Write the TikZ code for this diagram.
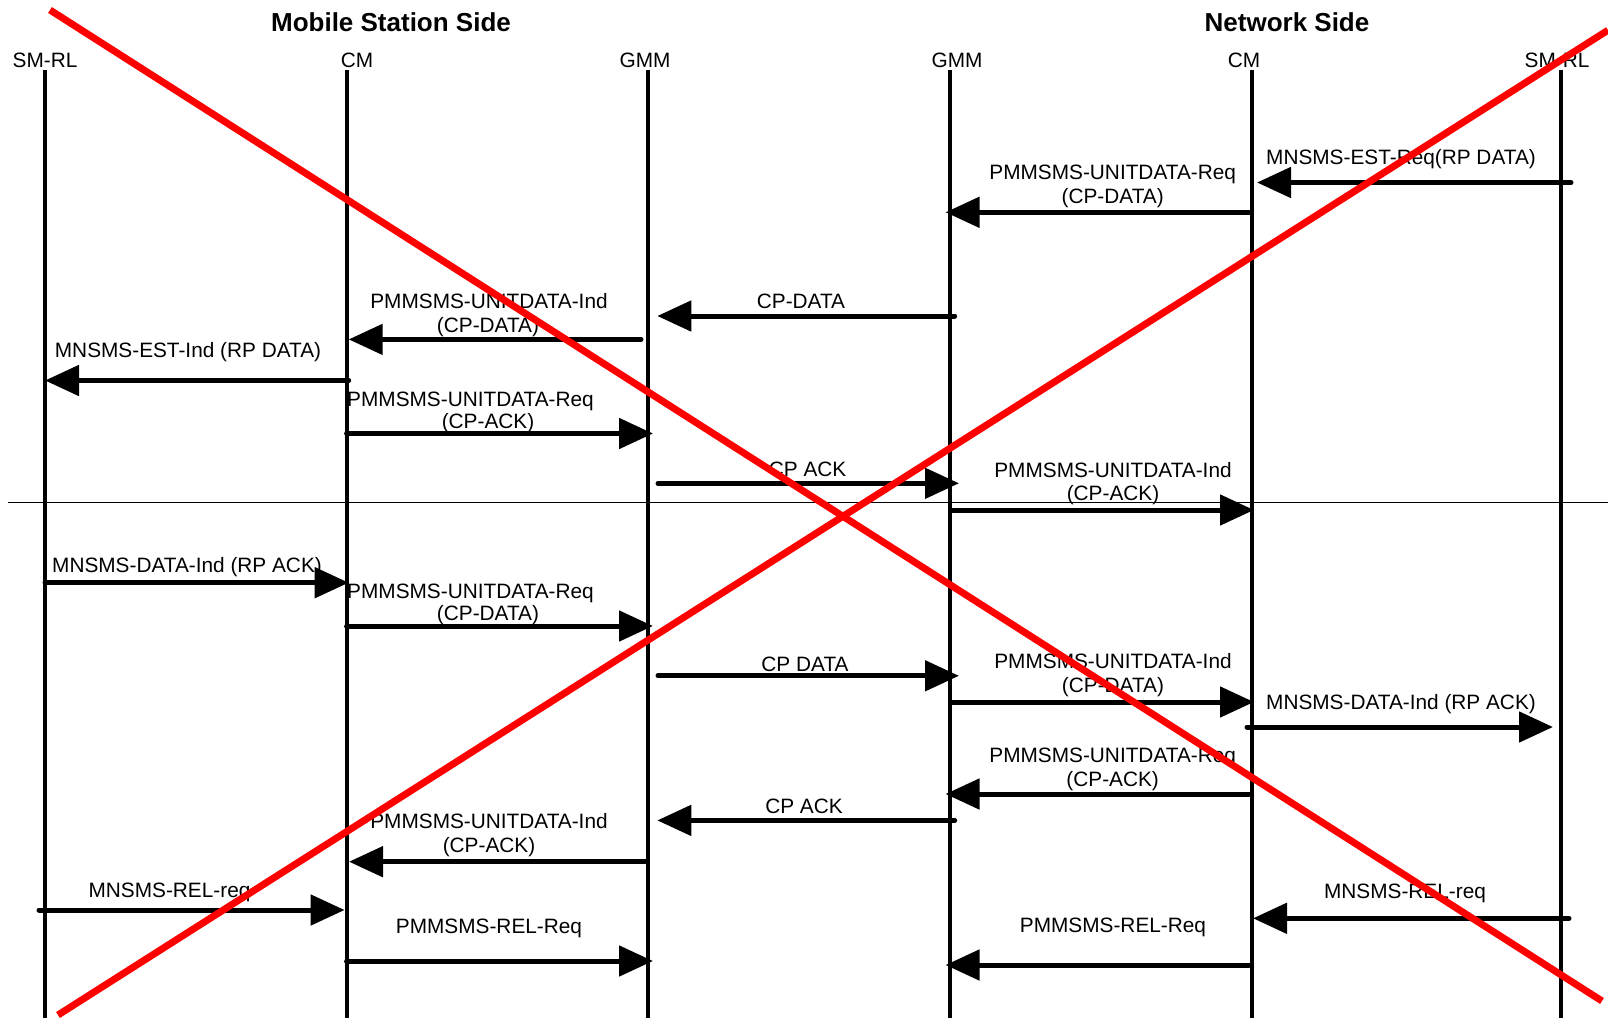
\documentclass[tikz,border=0pt]{standalone}
\usepackage{fontspec}
\setmainfont{Liberation Sans}
\usetikzlibrary{arrows.meta}
\begin{document}
\begin{tikzpicture}[x=0.5pt,y=-0.5pt,
  lifeline/.style={line width=2pt},
  msg/.style={line width=2.5pt, line cap=round, -{Triangle[length=17pt,width=15pt]}},
  txt/.style={anchor=base, inner sep=0pt, font=\fontsize{10.4}{12}\selectfont},
  sidetitle/.style={anchor=base, inner sep=0pt, font=\fontsize{13}{15}\selectfont\bfseries},
  cross/.style={red, line width=3.5pt}]
\useasboundingbox (0,0) rectangle (1608,1018);
% ====================
% Side titles and entity names
\node[sidetitle] (msside) at (391,31.5) {Mobile Station Side};
\node[sidetitle] (nwside) at (1287,31.5) {Network Side};
\node[txt] (smrlA) at (45,67.5) {SM-RL};
\node[txt] (cmA) at (357,67.5) {CM};
\node[txt] (gmmA) at (645,67.5) {GMM};
\node[txt] (gmmB) at (957,67.5) {GMM};
\node[txt] (cmB) at (1244,67.5) {CM};
\node[txt] (smrlB) at (1557,67.5) {SM-RL};
% Draw the lifelines
\draw[lifeline] (45,70) -- (45,1018);
\draw[lifeline] (346.5,70) -- (346.5,1018);
\draw[lifeline] (648,70) -- (648,1018);
\draw[lifeline] (950,70) -- (950,1018);
\draw[lifeline] (1251.5,70) -- (1251.5,1018);
\draw[lifeline] (1561,70) -- (1561,1018);
% Thin separator line
\coordinate (sepL) at (8,502.7);
\coordinate (sepR) at (1608,502.7);
\draw[line width=0.7pt] (sepL) -- (sepR);

% ====================
% Downlink: RP DATA from network to mobile station
\coordinate (estreqA) at (1571,182.5);
\coordinate (estreqB) at (1257,182.5);
\draw[msg] (estreqA) -- (estreqB);
\node[txt] (estreqL) at (1401,164) {MNSMS-EST-Req(RP DATA)};
% CM passes CP-DATA down to GMM
\coordinate (udreqNA) at (1249,212.3);
\coordinate (udreqNB) at (945.5,212.3);
\draw[msg] (udreqNA) -- (udreqNB);
\node[txt] (udreqNL) at (1112.7,179.3) {PMMSMS-UNITDATA-Req};
\node[txt] (udreqNM) at (1112.7,203) {(CP-DATA)};
% Over the air
\coordinate (cpdataA) at (954.7,316);
\coordinate (cpdataB) at (657.3,316);
\draw[msg] (cpdataA) -- (cpdataB);
\node[txt] (cpdataL) at (801,308.5) {CP-DATA};
% GMM passes CP-DATA up to CM
\coordinate (udindMA) at (641,339.4);
\coordinate (udindMB) at (348.7,339.4);
\draw[msg] (udindMA) -- (udindMB);
\node[txt] (udindML) at (489,308.5) {PMMSMS-UNITDATA-Ind};
\node[txt] (udindMM) at (488,332.5) {(CP-DATA)};
% CM passes RP DATA up to SM-RL
\coordinate (estindA) at (348.7,380.5);
\coordinate (estindB) at (45,380.5);
\draw[msg] (estindA) -- (estindB);
\node[txt] (estindL) at (188,357.5) {MNSMS-EST-Ind (RP DATA)};
% CM acknowledges with CP-ACK
\coordinate (ackreqMA) at (346.6,433.5);
\coordinate (ackreqMB) at (653,433.5);
\draw[msg] (ackreqMA) -- (ackreqMB);
\node[txt] (ackreqML) at (470.5,406.7) {PMMSMS-UNITDATA-Req};
\node[txt] (ackreqMM) at (488,428.3) {(CP-ACK)};
% Over the air
\coordinate (cpackA) at (658,483.3);
\coordinate (cpackB) at (959,483.3);
\draw[msg] (cpackA) -- (cpackB);
\node[txt] (cpackL) at (807.6,476.7) {CP ACK};
% GMM passes CP-ACK up to CM
\coordinate (ackindNA) at (950.6,510);
\coordinate (ackindNB) at (1254,510);
\draw[msg] (ackindNA) -- (ackindNB);
\node[txt] (ackindNL) at (1113,477) {PMMSMS-UNITDATA-Ind};
\node[txt] (ackindNM) at (1113,500.5) {(CP-ACK)};

% ====================
% Uplink: RP ACK from mobile station to network
\coordinate (datindMA) at (45,582.7);
\coordinate (datindMB) at (348.7,582.7);
\draw[msg] (datindMA) -- (datindMB);
\node[txt] (datindML) at (187,572.5) {MNSMS-DATA-Ind (RP ACK)};
% CM sends CP-DATA down to GMM
\coordinate (udreqMA) at (346.6,626);
\coordinate (udreqMB) at (653,626);
\draw[msg] (udreqMA) -- (udreqMB);
\node[txt] (udreqML) at (470.5,598) {PMMSMS-UNITDATA-Req};
\node[txt] (udreqMM) at (488,620.5) {(CP-DATA)};
% Over the air
\coordinate (cpdatbA) at (658,675.8);
\coordinate (cpdatbB) at (959,675.8);
\draw[msg] (cpdatbA) -- (cpdatbB);
\node[txt] (cpdatbL) at (805,671.5) {CP DATA};
% GMM passes CP-DATA up to CM
\coordinate (udindNA) at (950.6,702);
\coordinate (udindNB) at (1254,702);
\draw[msg] (udindNA) -- (udindNB);
\node[txt] (udindNL) at (1113,668.5) {PMMSMS-UNITDATA-Ind};
\node[txt] (udindNM) at (1113,692.5) {(CP-DATA)};
% CM passes RP ACK up to SM-RL
\coordinate (datindNA) at (1247,727);
\coordinate (datindNB) at (1553,727);
\draw[msg] (datindNA) -- (datindNB);
\node[txt] (datindNL) at (1401,709.5) {MNSMS-DATA-Ind (RP ACK)};
% CM acknowledges with CP-ACK
\coordinate (ackreqNA) at (1249,794);
\coordinate (ackreqNB) at (945.5,794);
\draw[msg] (ackreqNA) -- (ackreqNB);
\node[txt] (ackreqNL) at (1112.7,762.5) {PMMSMS-UNITDATA-Req};
\node[txt] (ackreqNM) at (1112.7,786.5) {(CP-ACK)};
% Over the air
\coordinate (cpackbA) at (954.7,820.4);
\coordinate (cpackbB) at (657.3,820.4);
\draw[msg] (cpackbA) -- (cpackbB);
\node[txt] (cpackbL) at (804,813) {CP ACK};
% GMM passes CP-ACK up to CM
\coordinate (ackindMA) at (645,861.7);
\coordinate (ackindMB) at (349,861.7);
\draw[msg] (ackindMA) -- (ackindMB);
\node[txt] (ackindML) at (489,828.5) {PMMSMS-UNITDATA-Ind};
\node[txt] (ackindMM) at (489,852) {(CP-ACK)};

% ====================
% Release on both sides
\coordinate (relreqMA) at (39,910);
\coordinate (relreqMB) at (344.6,910);
\draw[msg] (relreqMA) -- (relreqMB);
\node[txt] (relreqML) at (169.5,897) {MNSMS-REL-req};
\coordinate (pmrelMA) at (346.6,961);
\coordinate (pmrelMB) at (653,961);
\draw[msg] (pmrelMA) -- (pmrelMB);
\node[txt] (pmrelML) at (489,933) {PMMSMS-REL-Req};
\coordinate (relreqNA) at (1569,918.3);
\coordinate (relreqNB) at (1253,918.3);
\draw[msg] (relreqNA) -- (relreqNB);
\node[txt] (relreqNL) at (1405,898.5) {MNSMS-REL-req};
\coordinate (pmrelNA) at (1249,965);
\coordinate (pmrelNB) at (945.5,965);
\draw[msg] (pmrelNA) -- (pmrelNB);
\node[txt] (pmrelNL) at (1113,932) {PMMSMS-REL-Req};

% ====================
% Red cross over the whole chart
\coordinate (crossA) at (50,10);
\coordinate (crossB) at (1602,1001);
\coordinate (crossC) at (58,1015);
\coordinate (crossD) at (1608,30.2);
\draw[cross] (crossA) -- (crossB);
\draw[cross] (crossC) -- (crossD);
\end{tikzpicture}
\end{document}
